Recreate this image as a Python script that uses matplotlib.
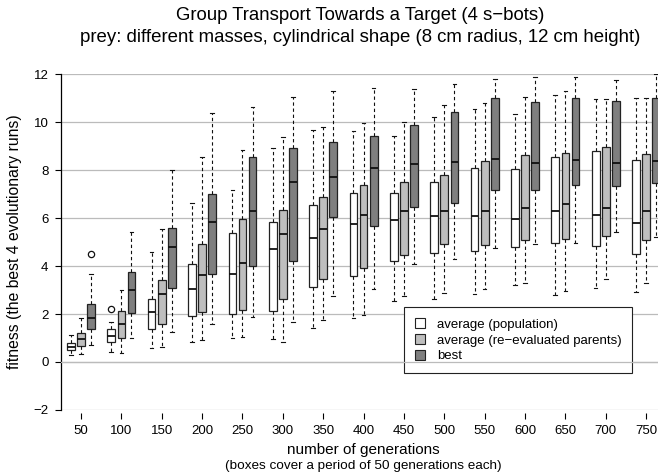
import matplotlib
matplotlib.use("Agg")
import matplotlib.pyplot as plt
from matplotlib.patches import Patch

plt.rcParams["font.family"] = ["Liberation Sans", "DejaVu Sans"]

generations = [50, 100, 150, 200, 250, 300, 350, 400, 450, 500, 550, 600, 650, 700, 750]

# average (population)
pop_lo = [0.29, 0.43, 0.57, 0.85, 1.01, 0.94, 1.43, 1.85, 2.54, 2.61, 2.83, 3.21, 2.79, 3.10, 2.93]
pop_q1 = [0.50, 0.82, 1.36, 1.90, 1.99, 2.14, 3.14, 3.60, 4.22, 4.54, 4.64, 4.81, 4.97, 4.85, 4.50]
pop_med = [0.64, 1.08, 2.07, 3.03, 3.65, 4.69, 5.15, 5.76, 5.90, 6.08, 6.08, 5.94, 6.30, 6.13, 5.78]
pop_q3 = [0.78, 1.36, 2.64, 4.08, 5.36, 5.82, 6.53, 7.05, 7.05, 7.50, 8.07, 8.03, 8.53, 8.80, 8.42]
pop_hi = [1.12, 1.65, 4.57, 6.61, 7.17, 8.93, 9.67, 9.63, 9.42, 10.22, 10.54, 10.32, 11.13, 10.94, 11.01]
pop_out = {100: [2.19]}

# average (re-evaluated parents)
par_lo = [0.32, 0.39, 0.64, 0.92, 1.06, 0.85, 1.75, 1.96, 2.75, 2.89, 3.06, 3.28, 2.96, 3.47, 3.30]
par_q1 = [0.67, 1.01, 1.58, 2.07, 2.17, 2.61, 3.47, 3.90, 4.44, 4.92, 4.88, 5.07, 5.11, 5.25, 5.08]
par_med = [0.94, 1.58, 2.82, 3.61, 4.12, 5.35, 5.54, 6.13, 6.29, 6.30, 6.29, 6.40, 6.57, 6.42, 6.30]
par_q3 = [1.22, 2.14, 3.42, 4.90, 5.95, 6.33, 6.89, 7.38, 7.50, 7.78, 8.38, 8.64, 8.69, 8.97, 8.65]
par_hi = [1.85, 3.00, 5.53, 8.53, 8.83, 9.36, 9.81, 9.94, 10.01, 10.71, 10.81, 11.03, 11.31, 10.94, 11.01]
par_out = {}

# best
best_lo = [0.71, 0.99, 1.24, 1.57, 1.86, 1.65, 2.75, 3.03, 4.07, 4.29, 4.76, 4.90, 4.94, 5.42, 5.22]
best_q1 = [1.36, 2.03, 3.10, 3.65, 4.01, 4.21, 6.04, 5.67, 6.47, 6.61, 7.17, 7.17, 7.38, 7.33, 7.44]
best_med = [1.82, 3.00, 4.78, 5.85, 6.30, 7.49, 7.72, 8.07, 8.26, 8.33, 8.47, 8.30, 8.42, 8.30, 8.39]
best_q3 = [2.40, 3.76, 5.60, 6.99, 8.54, 8.90, 9.18, 9.42, 9.86, 10.40, 10.99, 10.83, 10.99, 10.89, 10.99]
best_hi = [3.65, 5.40, 7.99, 10.36, 10.61, 11.05, 11.29, 11.43, 11.36, 11.57, 11.78, 11.89, 11.86, 11.75, 12.00]
best_out = {50: [4.49]}

labels = ["average (population)", "average (re\u2212evaluated parents)", "best"]
colors = ["#ffffff", "#bebebe", "#7f7f7f"]


def make_stats(lo, q1, med, q3, hi, outliers):
    stats = []
    for i, g in enumerate(generations):
        stats.append({
            "whislo": lo[i], "q1": q1[i], "med": med[i], "q3": q3[i],
            "whishi": hi[i], "fliers": outliers.get(g, []),
        })
    return stats


series = [
    make_stats(pop_lo, pop_q1, pop_med, pop_q3, pop_hi, pop_out),
    make_stats(par_lo, par_q1, par_med, par_q3, par_hi, par_out),
    make_stats(best_lo, best_q1, best_med, best_q3, best_hi, best_out),
]
offsets = [-12.5, 0, 12.5]

fig = plt.figure(figsize=(6.58, 4.75), dpi=100)
ax = fig.add_axes([61 / 658, 1 - 410 / 475, 597 / 658, 336 / 475])

for stats, off, col in zip(series, offsets, colors):
    ax.bxp(
        stats,
        positions=[g + off for g in generations],
        widths=9.5,
        capwidths=4.5,
        patch_artist=True,
        manage_ticks=False,
        boxprops=dict(facecolor=col, edgecolor="#222222", linewidth=0.9),
        medianprops=dict(color="#111111", linewidth=1.3),
        whiskerprops=dict(color="#111111", linewidth=0.8, linestyle=(0, (3, 2.5))),
        capprops=dict(color="#111111", linewidth=0.8),
        flierprops=dict(marker="o", markersize=4.5, markerfacecolor="none",
                        markeredgecolor="#111111", markeredgewidth=0.9),
        zorder=3,
    )

ax.set_xlim(25.2, 764.7)
ax.set_ylim(-2, 12)
yticks = [-2, 0, 2, 4, 6, 8, 10, 12]
ax.set_yticks(yticks)
for y in yticks:
    ax.axhline(y, color="#bbbbbb", linewidth=0.9, zorder=1)

ax.set_xticks(generations)
ax.set_xticklabels([str(g) for g in generations])

for side in ["top", "right", "bottom"]:
    ax.spines[side].set_visible(False)
ax.spines["bottom"].set_position(("outward", 2))
ax.spines["left"].set_linewidth(0.9)
ax.tick_params(axis="x", direction="out", length=4, width=0.8, pad=5, labelsize=9.5)
ax.tick_params(axis="y", direction="out", length=4, width=0.8, pad=5, labelsize=9.5)

ax.set_ylabel("fitness (the best 4 evolutionary runs)", fontsize=11.3, labelpad=8)

handles = [Patch(facecolor=c, edgecolor="#222222", linewidth=0.8) for c in colors]
leg = ax.legend(handles, labels, loc="lower left", bbox_to_anchor=(343 / 597, 37 / 336),
                fontsize=9.5, frameon=True, fancybox=False, edgecolor="#222222",
                framealpha=1, borderpad=0.8, handlelength=0.8, handleheight=0.8,
                handletextpad=0.9, labelspacing=0.25, borderaxespad=0)
leg.get_frame().set_linewidth(0.8)
leg.set_zorder(5)
ax.axhline(0, color="#bbbbbb", linewidth=0.9, zorder=6)

fig.text(0.5 + 31 / 658, 1 - 15 / 475, "Group Transport Towards a Target (4 s\u2212bots)",
         ha="center", va="center", fontsize=13.4)
fig.text(0.5 + 31 / 658, 1 - 38 / 475,
         "prey: different masses, cylindrical shape (8 cm radius, 12 cm height)",
         ha="center", va="center", fontsize=13.4)
fig.text(0.5 + 34 / 658, 1 - 450 / 475, "number of generations",
         ha="center", va="center", fontsize=11)
fig.text(0.5 + 34 / 658, 1 - 466 / 475, "(boxes cover a period of 50 generations each)",
         ha="center", va="center", fontsize=9.7)

fig.savefig("out.png", dpi=100)
